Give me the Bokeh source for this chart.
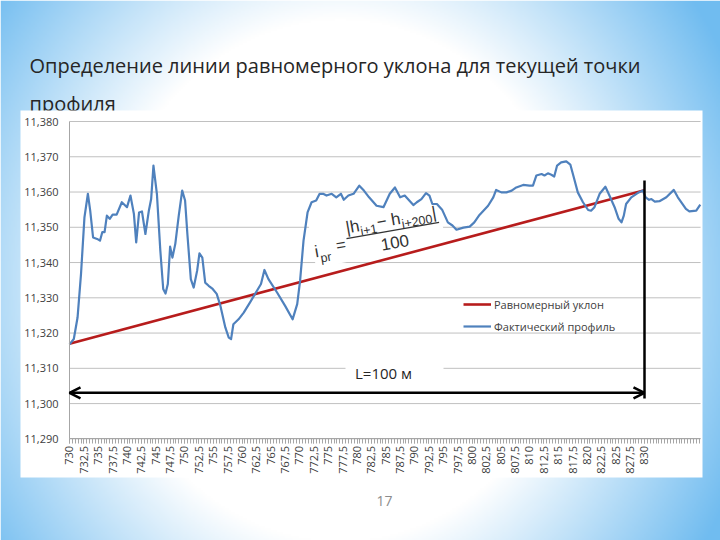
import math
import numpy as np
from bokeh.plotting import figure
from bokeh.models import (Range1d, LinearAxis, FixedTicker, Label, Legend,
                          LegendItem, Arrow, OpenHead)
from bokeh.core.properties import value
from bokeh.embed import file_html
from bokeh.resources import INLINE

# ---------------- data ----------------
title_lines = ["Определение линии равномерного уклона для текущей точки", "профиля"]
page_number = "17"

x_tick_labels = ["730", "732,5", "735", "737,5", "740", "742,5", "745", "747,5", "750",
                 "752,5", "755", "757,5", "760", "762,5", "765", "767,5", "770", "772,5",
                 "775", "777,5", "780", "782,5", "785", "787,5", "790", "792,5", "795",
                 "797,5", "800", "802,5", "805", "807,5", "810", "812,5", "815", "817,5",
                 "820", "822,5", "825", "827,5", "830"]
y_tick_labels = ["11,290", "11,300", "11,310", "11,320", "11,330", "11,340", "11,350",
                 "11,360", "11,370", "11,380"]

profile_x = [730.0, 730.75, 731.4, 732.0, 732.6, 733.2, 733.6, 734.1, 734.8, 735.3, 735.7,
             736.1, 736.5, 737.0, 737.5, 738.2, 739.1, 740.0, 740.6, 741.2, 741.6, 742.1,
             742.6, 743.2, 743.8, 744.2, 744.6, 745.2, 745.8, 746.3, 746.7, 747.1, 747.5,
             747.9, 748.4, 749.0, 749.6, 750.1, 750.5, 751.1, 751.6, 752.2, 752.6, 753.1,
             753.6, 754.2, 754.9, 755.6, 756.2, 757.1, 757.7, 758.1, 758.5, 759.4, 760.3,
             761.4, 762.6, 763.3, 763.9, 764.6, 766.1, 767.5, 768.8, 769.6, 770.1, 770.7,
             771.4, 772.1, 772.9, 773.5, 774.1, 774.7, 775.6, 776.4, 777.2, 777.7, 778.5,
             779.4, 780.4, 781.2, 782.1, 783.4, 784.6, 785.7, 786.6, 787.5, 788.3, 789.8,
             790.4, 791.2, 792.0, 792.6, 793.1, 793.9, 794.8, 795.8, 796.6, 797.3, 798.5,
             799.6, 800.4, 801.3, 802.8, 803.7, 804.2, 805.1, 806.0, 806.9, 807.7, 808.9,
             810.0, 810.6, 811.2, 812.1, 812.6, 813.2, 813.8, 814.3, 814.8, 815.5, 816.4,
             817.1, 817.7, 818.4, 819.3, 820.2, 820.7, 821.3, 822.2, 823.2, 823.9, 824.8,
             825.5, 826.0, 826.4, 826.8, 827.7, 828.8, 829.7, 830.2, 830.8, 831.2, 831.8,
             832.6, 833.8, 835.1, 835.8, 837.2, 837.8, 839.0, 839.7]
profile_y = [11.3168, 11.3183, 11.3244, 11.3367, 11.3528, 11.3595, 11.3547, 11.3471, 11.3467,
             11.3462, 11.3486, 11.3486, 11.3533, 11.3524, 11.3536, 11.3536, 11.3571, 11.3557,
             11.3590, 11.3538, 11.3457, 11.3542, 11.3545, 11.3481, 11.3547, 11.3580, 11.3675,
             11.3595, 11.3433, 11.3325, 11.3312, 11.3339, 11.3445, 11.3414, 11.3453, 11.3533,
             11.3604, 11.3576, 11.3481, 11.3353, 11.3329, 11.3377, 11.3426, 11.3414, 11.3343,
             11.3334, 11.3325, 11.3311, 11.3280, 11.3216, 11.3187, 11.3183, 11.3225, 11.3239,
             11.3258, 11.3287, 11.3320, 11.3339, 11.3379, 11.3353, 11.3315, 11.3277, 11.3239,
             11.3282, 11.3348, 11.3462, 11.3542, 11.3571, 11.3576, 11.3595, 11.3595, 11.3590,
             11.3595, 11.3585, 11.3595, 11.3578, 11.3590, 11.3595, 11.3618, 11.3604, 11.3585,
             11.3561, 11.3557, 11.3595, 11.3613, 11.3585, 11.3590, 11.3563, 11.3571, 11.3580,
             11.3597, 11.3590, 11.3566, 11.3566, 11.3550, 11.3514, 11.3505, 11.3493, 11.3499,
             11.3502, 11.3514, 11.3535, 11.3561, 11.3585, 11.3606, 11.3599, 11.3599, 11.3604,
             11.3613, 11.3620, 11.3618, 11.3618, 11.3647, 11.3651, 11.3647, 11.3653, 11.3649,
             11.3644, 11.3675, 11.3684, 11.3687, 11.3678, 11.3642, 11.3599, 11.3571, 11.3549,
             11.3547, 11.3557, 11.3595, 11.3615, 11.3590, 11.3557, 11.3524, 11.3514, 11.3533,
             11.3566, 11.3585, 11.3597, 11.3604, 11.3585, 11.3578, 11.3580, 11.3573, 11.3574,
             11.3585, 11.3606, 11.3585, 11.3552, 11.3545, 11.3547, 11.3564]

uniform_x = [730.0, 830.0]
uniform_y = [11.3170, 11.3605]

series_names = ["Равномерный уклон", "Фактический профиль"]
length_label = "L=100 м"
segment_start = 730.0
segment_end = 830.0
x_axis_end = 839.75

# ---------------- geometry helpers (screen px -> data) ----------------
X0_PX, X_SCALE = 69.0, 5.75        # px of x=730, px per unit
Y0_PX, Y_SCALE = 121.0, 3526.0     # px of y=11.380, px per unit


def dx(px):
    return 730.0 + (px - X0_PX) / X_SCALE


def dy(py):
    return 11.380 - (py - Y0_PX) / Y_SCALE


x_ticks = [float(s.replace(",", ".")) for s in x_tick_labels]
y_ticks = [float(s.replace(",", ".")) for s in y_tick_labels]
x_minor = [730.0 + 0.5 * i for i in range(int((x_axis_end - 730.0) / 0.5) + 1)]

p = figure(width=720, height=540, output_backend="svg", toolbar_location=None,
           x_range=Range1d(dx(0), dx(720)), y_range=Range1d(dy(540), dy(0)),
           x_axis_type=None, y_axis_type=None, min_border=0)
p.outline_line_color = None
p.background_fill_color = "white"
p.border_fill_color = "white"

# background gradient (slide)
H, W = 270, 360
yy, xx = np.mgrid[0:H, 0:W]
sx = (xx + 0.5) * 720.0 / W
sy = 540.0 - (yy + 0.5) * 540.0 / H
d = np.sqrt((sx - 340.0) ** 2 + ((sy - 280.0) * 0.9) ** 2)
t = np.clip((d - 235.0) / 200.0, 0, 1)
img = np.empty((H, W), dtype=np.uint32)
view = img.view(dtype=np.uint8).reshape((H, W, 4))
view[..., 0] = (255 + (112 - 255) * t).astype(np.uint8)
view[..., 1] = (255 + (188 - 255) * t).astype(np.uint8)
view[..., 2] = (255 + (240 - 255) * t).astype(np.uint8)
view[..., 3] = 255
p.image_rgba(image=[img], x=dx(0), y=dy(540), dw=dx(720) - dx(0), dh=dy(0) - dy(540))

# title
p.text(x=[dx(29), dx(29)], y=[dy(65), dy(103)], text=title_lines,
       text_font=value("Open Sans"), text_font_size="20px", text_color="#262626",
       text_align="left", text_baseline="middle")

# white chart panel
p.quad(left=[dx(20)], right=[dx(702)], top=[dy(110)], bottom=[dy(477)],
       fill_color="white", line_color=None)

# page number
p.text(x=[dx(384)], y=[dy(500)], text=[page_number], text_font=value("Open Sans"),
       text_font_size="14px", text_color="#8c8c8c", text_align="center",
       text_baseline="middle")

# gridlines
p.segment(x0=[segment_start] * len(y_ticks), x1=[x_axis_end] * len(y_ticks),
          y0=y_ticks, y1=y_ticks, line_color="#c0c0c0", line_width=1)

# formula background + L label background
theta = math.radians(10)
OX, OY = 347.0, 238.0


def loc(u, v):
    ddx = u * math.cos(theta) - v * math.sin(theta)
    dup = u * math.sin(theta) + v * math.cos(theta)
    return OX + ddx, OY - dup


bcx, bcy = loc(30, 0)
p.rect(x=[dx(bcx)], y=[dy(bcy)], width=[132], height=[46], width_units="screen",
       height_units="screen", angle=theta, fill_color="white", line_color=None)
p.quad(left=[dx(345)], right=[dx(443)], top=[dy(362)], bottom=[dy(382)],
       fill_color="white", line_color=None)

# series
red = p.line(uniform_x, uniform_y, line_color="#b71c1c", line_width=2.6)
blue = p.line(profile_x, profile_y, line_color="#4f81bd", line_width=2.2,
              line_join="round")

# vertical end line and L arrow
p.segment(x0=[segment_end], x1=[segment_end], y0=[dy(398)], y1=[dy(180)],
          line_color="black", line_width=2.5)
p.add_layout(Arrow(start=OpenHead(size=11, line_width=2.5, line_color="black"),
                   end=OpenHead(size=11, line_width=2.5, line_color="black"),
                   x_start=segment_start, y_start=dy(392.3), x_end=segment_end,
                   y_end=dy(392.3), line_width=2.5, line_color="black"))
p.add_layout(Label(x=dx(383), y=dy(372), text=length_label, text_align="center",
                   text_baseline="middle", text_font="Open Sans",
                   text_font_size="15px", text_color="#262626"))

# formula pieces
fx0, fy0 = loc(-1, 0)
fx1, fy1 = loc(93, 0)
p.segment(x0=[dx(fx0)], y0=[dy(fy0)], x1=[dx(fx1)], y1=[dy(fy1)],
          line_color="#333333", line_width=1.4)
pieces = [
    ("i", -32.6, -7.6, 17, "center"),
    ("pr", -24.5, -15.0, 12.5, "center"),
    ("=", -7.6, -5.5, 17, "center"),
    ("|h", 0, 10.5, 17, "left"),
    ("i+1", 14, 4.5, 12.5, "left"),
    ("− h", 31.5, 10.5, 17, "left"),
    ("i+200", 56, 4.5, 12.5, "left"),
    ("|", 87.5, 10.5, 17, "left"),
    ("100", 46, -12.0, 17, "center"),
]
for txt, u, v, fs, al in pieces:
    px_, py_ = loc(u, v)
    p.add_layout(Label(x=dx(px_), y=dy(py_), text=txt, angle=theta, text_align=al,
                       text_baseline="middle", text_font="Liberation Sans",
                       text_font_size=f"{fs}px", text_color="#333333"))

# axes
xaxis = LinearAxis(fixed_location=11.290, bounds=(segment_start, x_axis_end),
                   ticker=FixedTicker(ticks=x_ticks, minor_ticks=x_minor))
xaxis.major_label_overrides = {v: s for v, s in zip(x_ticks, x_tick_labels)}
xaxis.major_label_orientation = math.pi / 2
xaxis.axis_line_color = "#a6a6a6"
xaxis.major_tick_line_color = "#a6a6a6"
xaxis.minor_tick_line_color = "#a6a6a6"
xaxis.major_tick_in = 0
xaxis.major_tick_out = 5
xaxis.minor_tick_in = 0
xaxis.minor_tick_out = 5
xaxis.major_label_standoff = 2
xaxis.major_label_text_font = "Open Sans"
xaxis.major_label_text_font_size = "11px"
xaxis.major_label_text_color = "#404040"
p.add_layout(xaxis, "below")

yaxis = LinearAxis(fixed_location=segment_start, bounds=(11.290, 11.380),
                   ticker=FixedTicker(ticks=y_ticks, minor_ticks=[]))
yaxis.major_label_overrides = {v: s for v, s in zip(y_ticks, y_tick_labels)}
yaxis.axis_line_color = "#a6a6a6"
yaxis.major_tick_in = 0
yaxis.major_tick_out = 0
yaxis.minor_tick_line_color = None
yaxis.major_label_standoff = 11
yaxis.major_label_text_font = "Open Sans"
yaxis.major_label_text_font_size = "11px"
yaxis.major_label_text_color = "#404040"
p.add_layout(yaxis, "left")

legend = Legend(items=[LegendItem(label=series_names[0], renderers=[red]),
                       LegendItem(label=series_names[1], renderers=[blue])],
                location=(463, 206), background_fill_alpha=0, border_line_color=None,
                padding=0, margin=0, spacing=6, glyph_height=16, glyph_width=28,
                label_height=16, label_standoff=3, label_text_font="Open Sans",
                label_text_font_size="11px", label_text_color="#404040")
p.add_layout(legend)

open("out.html", "w").write(file_html(p, INLINE))
